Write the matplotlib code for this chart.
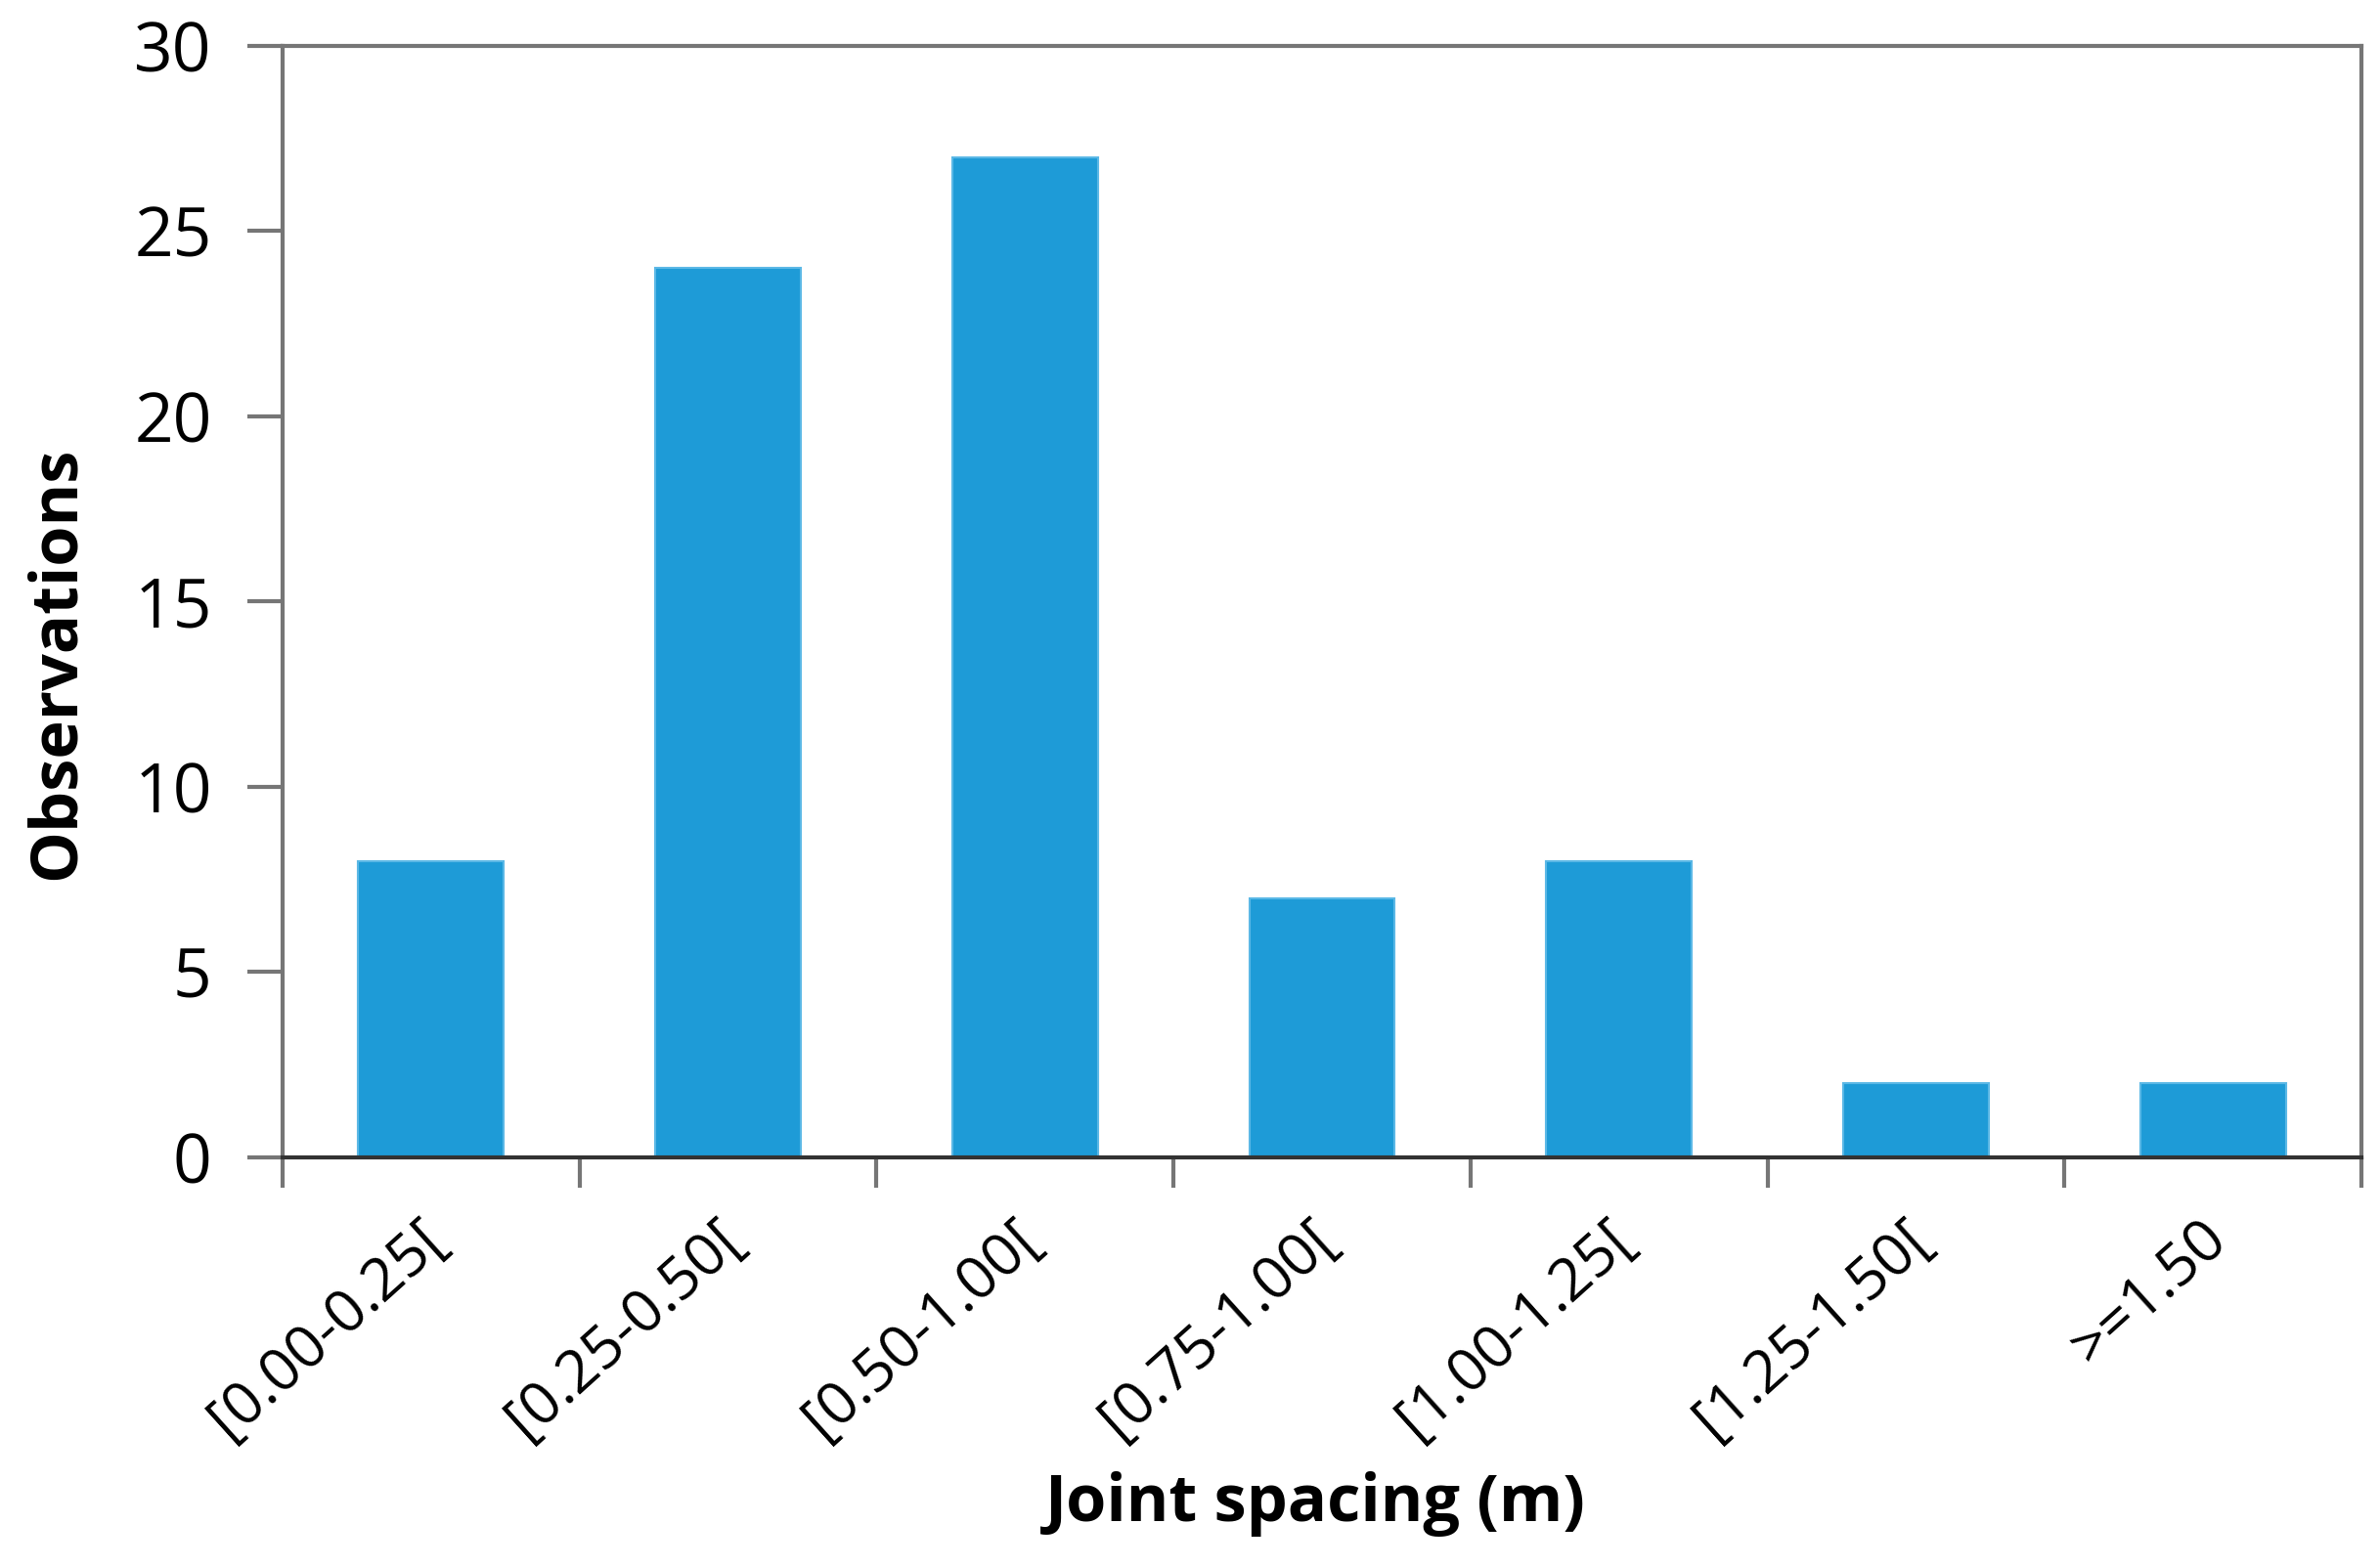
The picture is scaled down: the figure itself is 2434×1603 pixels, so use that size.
import numpy as np
import matplotlib
matplotlib.use('Agg')
import matplotlib.pyplot as plt
import matplotlib.transforms as mtransforms

plt.rcParams['font.family'] = ['Open Sans', 'DejaVu Sans']

categories = ['[0.00-0.25[', '[0.25-0.50[', '[0.50-1.00[', '[0.75-1.00[',
              '[1.00-1.25[', '[1.25-1.50[', '>=1.50']
observations = [8, 24, 27, 7, 8, 2, 2]

fig = plt.figure(figsize=(24.34, 16.03), dpi=100)
ax = fig.add_axes([0.1187, 0.2614, 0.8735, 0.7093])

x = np.arange(len(categories))
ax.bar(x, observations, width=0.49, color='#1E9BD7', edgecolor='#5BB8E6', linewidth=1.5, zorder=2)

ax.set_xlim(-0.5, len(categories) - 0.5)
ax.set_ylim(0, 30)
ax.set_yticks(range(0, 31, 5))
ax.tick_params(axis='y', labelsize=50, length=26, width=3, color='#767676', pad=26)

# ticks on category boundaries, labels centred on bars
ax.set_xticks(np.arange(-0.5, len(categories)), minor=False)
ax.set_xticklabels([])
ax.tick_params(axis='x', length=22, width=3, color='#767676')
ax.set_xticks(x, minor=True)
ax.set_xticklabels(categories, minor=True, rotation=42, ha='right', va='top',
                   rotation_mode='anchor', fontsize=44)
ax.tick_params(axis='x', which='minor', length=0, pad=38)
shift = mtransforms.ScaledTranslation(-10 / 72, 0, fig.dpi_scale_trans)
for lbl in ax.get_xticklabels(minor=True):
    lbl.set_transform(lbl.get_transform() + shift)

for side in ['left', 'right', 'top']:
    ax.spines[side].set_color('#767676')
    ax.spines[side].set_linewidth(3)
ax.spines['bottom'].set_color('#333333')
ax.spines['bottom'].set_linewidth(3)

ax.set_ylabel('Observations', fontsize=48, fontweight='bold')
ax.yaxis.set_label_coords(-0.093, 0.445)
ax.set_xlabel('Joint spacing (m)', fontsize=48, fontweight='bold')
ax.xaxis.set_label_coords(0.497, -0.282)

fig.savefig('out.png', dpi=100)
